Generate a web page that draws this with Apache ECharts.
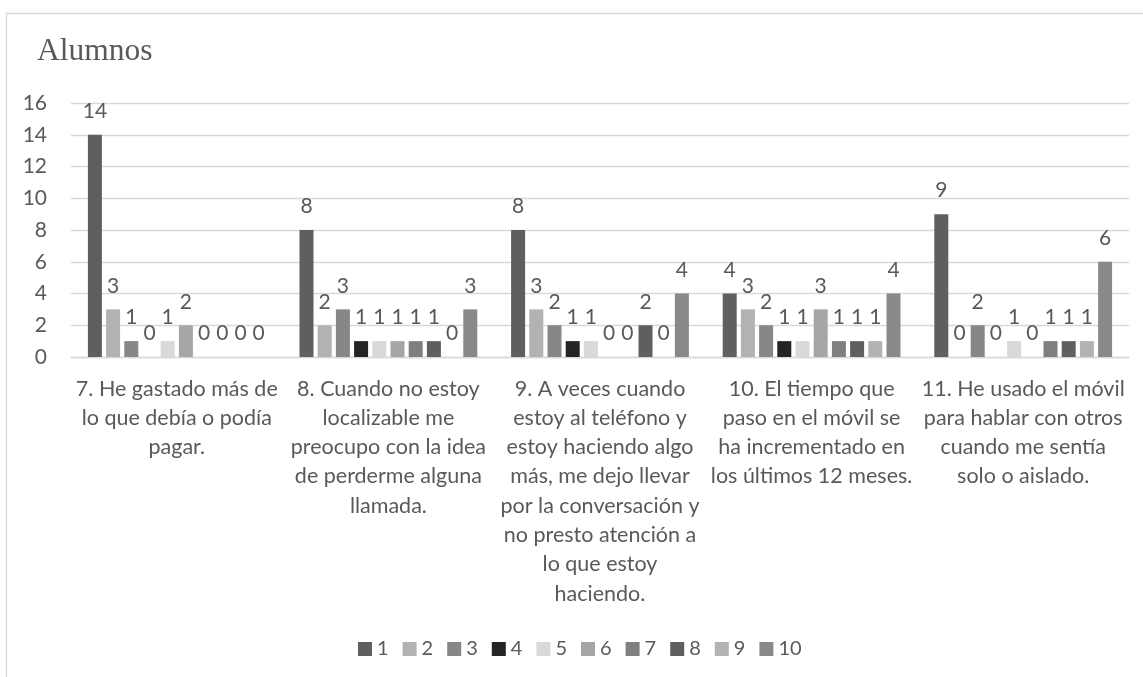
<!DOCTYPE html>
<html>
<head>
<meta charset="utf-8">
<script src="https://cdn.jsdelivr.net/npm/echarts@6/dist/echarts.min.js"></script>
<style>
  html, body { margin: 0; padding: 0; background: #ffffff; }
  #chart { width: 1143px; height: 677px; }
</style>
</head>
<body>
<div id="chart"></div>
<script>
// Survey items (category axis)
const categories = [
  '7. He gastado más de\nlo que debía o podía\npagar.',
  '8. Cuando no estoy\nlocalizable me\npreocupo con la idea\nde perderme alguna\nllamada.',
  '9. A veces cuando\nestoy al teléfono y\nestoy haciendo algo\nmás, me dejo llevar\npor la conversación y\nno presto atención a\nlo que estoy\nhaciendo.',
  '10. El tiempo que\npaso en el móvil se\nha incrementado en\nlos últimos 12 meses.',
  '11. He usado el móvil\npara hablar con otros\ncuando me sentía\nsolo o aislado.'
];

// Number of students per answer value (1..10) for each item
const serie1  = [14, 8, 8, 4, 9];
const serie2  = [3, 2, 3, 3, 0];
const serie3  = [1, 3, 2, 2, 2];
const serie4  = [0, 1, 1, 1, 0];
const serie5  = [1, 1, 1, 1, 1];
const serie6  = [2, 1, 0, 3, 0];
const serie7  = [0, 1, 0, 1, 1];
const serie8  = [0, 1, 2, 1, 1];
const serie9  = [0, 0, 0, 1, 1];
const serie10 = [0, 3, 4, 4, 6];

const seriesNames = ['1', '2', '3', '4', '5', '6', '7', '8', '9', '10'];
const seriesData = [serie1, serie2, serie3, serie4, serie5, serie6, serie7, serie8, serie9, serie10];
const seriesColors = ['#5f5f5f', '#b2b2b2', '#878787', '#242424', '#d9d9d9',
                      '#a6a6a6', '#7f7f7f', '#5f5f5f', '#b3b3b3', '#898989'];

// Value axis ticks
const yMin = 0, yMax = 16, yStep = 2;

const FONT = 'Lato';
const TEXT = '#595959';
const LINE = '#d9d9d9';

const chart = echarts.init(document.getElementById('chart'), null, { renderer: 'canvas' });

chart.setOption({
  animation: false,
  backgroundColor: '#ffffff',
  title: {
    text: 'Alumnos',
    left: 37,
    top: 34,
    padding: 0,
    textStyle: {
      fontFamily: '"Liberation Serif", "DejaVu Serif", serif',
      fontSize: 31.5,
      fontWeight: 'normal',
      color: TEXT,
      lineHeight: 36
    }
  },
  graphic: [{
    type: 'rect',
    silent: true,
    z: -1,
    shape: { x: 6.5, y: 13.5, width: 1200, height: 800 },
    style: { fill: 'none', stroke: LINE, lineWidth: 1.3 }
  }],
  legend: {
    data: seriesNames,
    left: 358,
    top: 639,
    padding: 0,
    itemWidth: 14,
    itemHeight: 14,
    itemGap: 14,
    icon: 'rect',
    textStyle: { fontFamily: FONT, fontSize: 20, color: TEXT }
  },
  grid: {
    left: 71,
    right: 14,
    top: 103,
    bottom: 320,
    containLabel: false
  },
  xAxis: {
    type: 'category',
    data: categories,
    axisLine: { show: true, lineStyle: { color: LINE, width: 1.3 } },
    axisTick: { show: false },
    axisLabel: {
      interval: 0,
      margin: 17,
      fontFamily: FONT,
      fontSize: 21.5,
      lineHeight: 29.3,
      color: TEXT,
      align: 'center',
      verticalAlign: 'top'
    }
  },
  yAxis: {
    type: 'value',
    min: yMin,
    max: yMax,
    interval: yStep,
    axisLine: { show: false },
    axisTick: { show: false },
    splitLine: { show: true, lineStyle: { color: LINE, width: 1.3 } },
    axisLabel: {
      margin: 24,
      fontFamily: FONT,
      fontSize: 21,
      color: TEXT
    }
  },
  series: seriesData.map((d, i) => ({
    name: seriesNames[i],
    type: 'bar',
    data: d,
    barWidth: 14,
    barGap: '30%',
    itemStyle: { color: seriesColors[i] },
    label: {
      show: true,
      position: 'top',
      distance: 13,
      fontFamily: FONT,
      fontSize: 21,
      color: TEXT
    }
  }))
});
</script>
</body>
</html>
